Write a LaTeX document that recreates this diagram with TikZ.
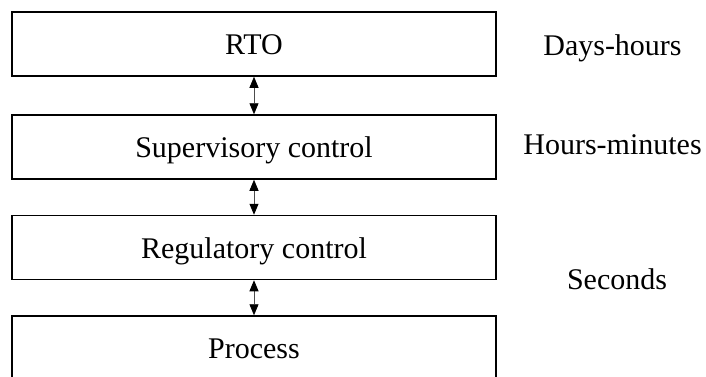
\documentclass[tikz,border=0pt]{standalone}
\usepackage{fontspec}
\setmainfont{Liberation Serif}
\usetikzlibrary{arrows.meta}
\begin{document}
\begin{tikzpicture}[x=1pt,y=-1pt,
  layer/.style={draw=black, line width=1.5pt, rectangle, minimum width=484pt,
    minimum height=64pt, inner sep=0pt, text height=21pt, text depth=0pt,
    font=\fontsize{30}{36}\selectfont},
  timescale/.style={anchor=base, inner sep=0pt, font=\fontsize{30}{36}\selectfont},
  link/.style={draw=black!70, line width=0.9pt,
    {Triangle[width=9pt,length=11pt,color=black,fill=black]}-{Triangle[width=9pt,length=11pt,color=black,fill=black]}}]
  \useasboundingbox (0,0) rectangle (706,376);
  % control hierarchy
  \node[layer] (rto) at (254,44) {RTO};
  \node[layer] (sup) at (254,147) {Supervisory control};
  \node[layer] (reg) at (254,247.5) {Regulatory control};
  \node[layer] (proc) at (254,348) {Process};
  % information flow between layers
  \draw[link] (rto.south) -- (sup.north);
  \draw[link] (sup.south) -- (reg.north);
  \draw[link] (reg.south) -- (proc.north);
  % time scales
  \node[timescale] (t1) at (612.5,55) {Days-hours};
  \node[timescale] (t2) at (612.5,154) {Hours-minutes};
  \node[timescale] (t3) at (617,289) {Seconds};
\end{tikzpicture}
\end{document}
